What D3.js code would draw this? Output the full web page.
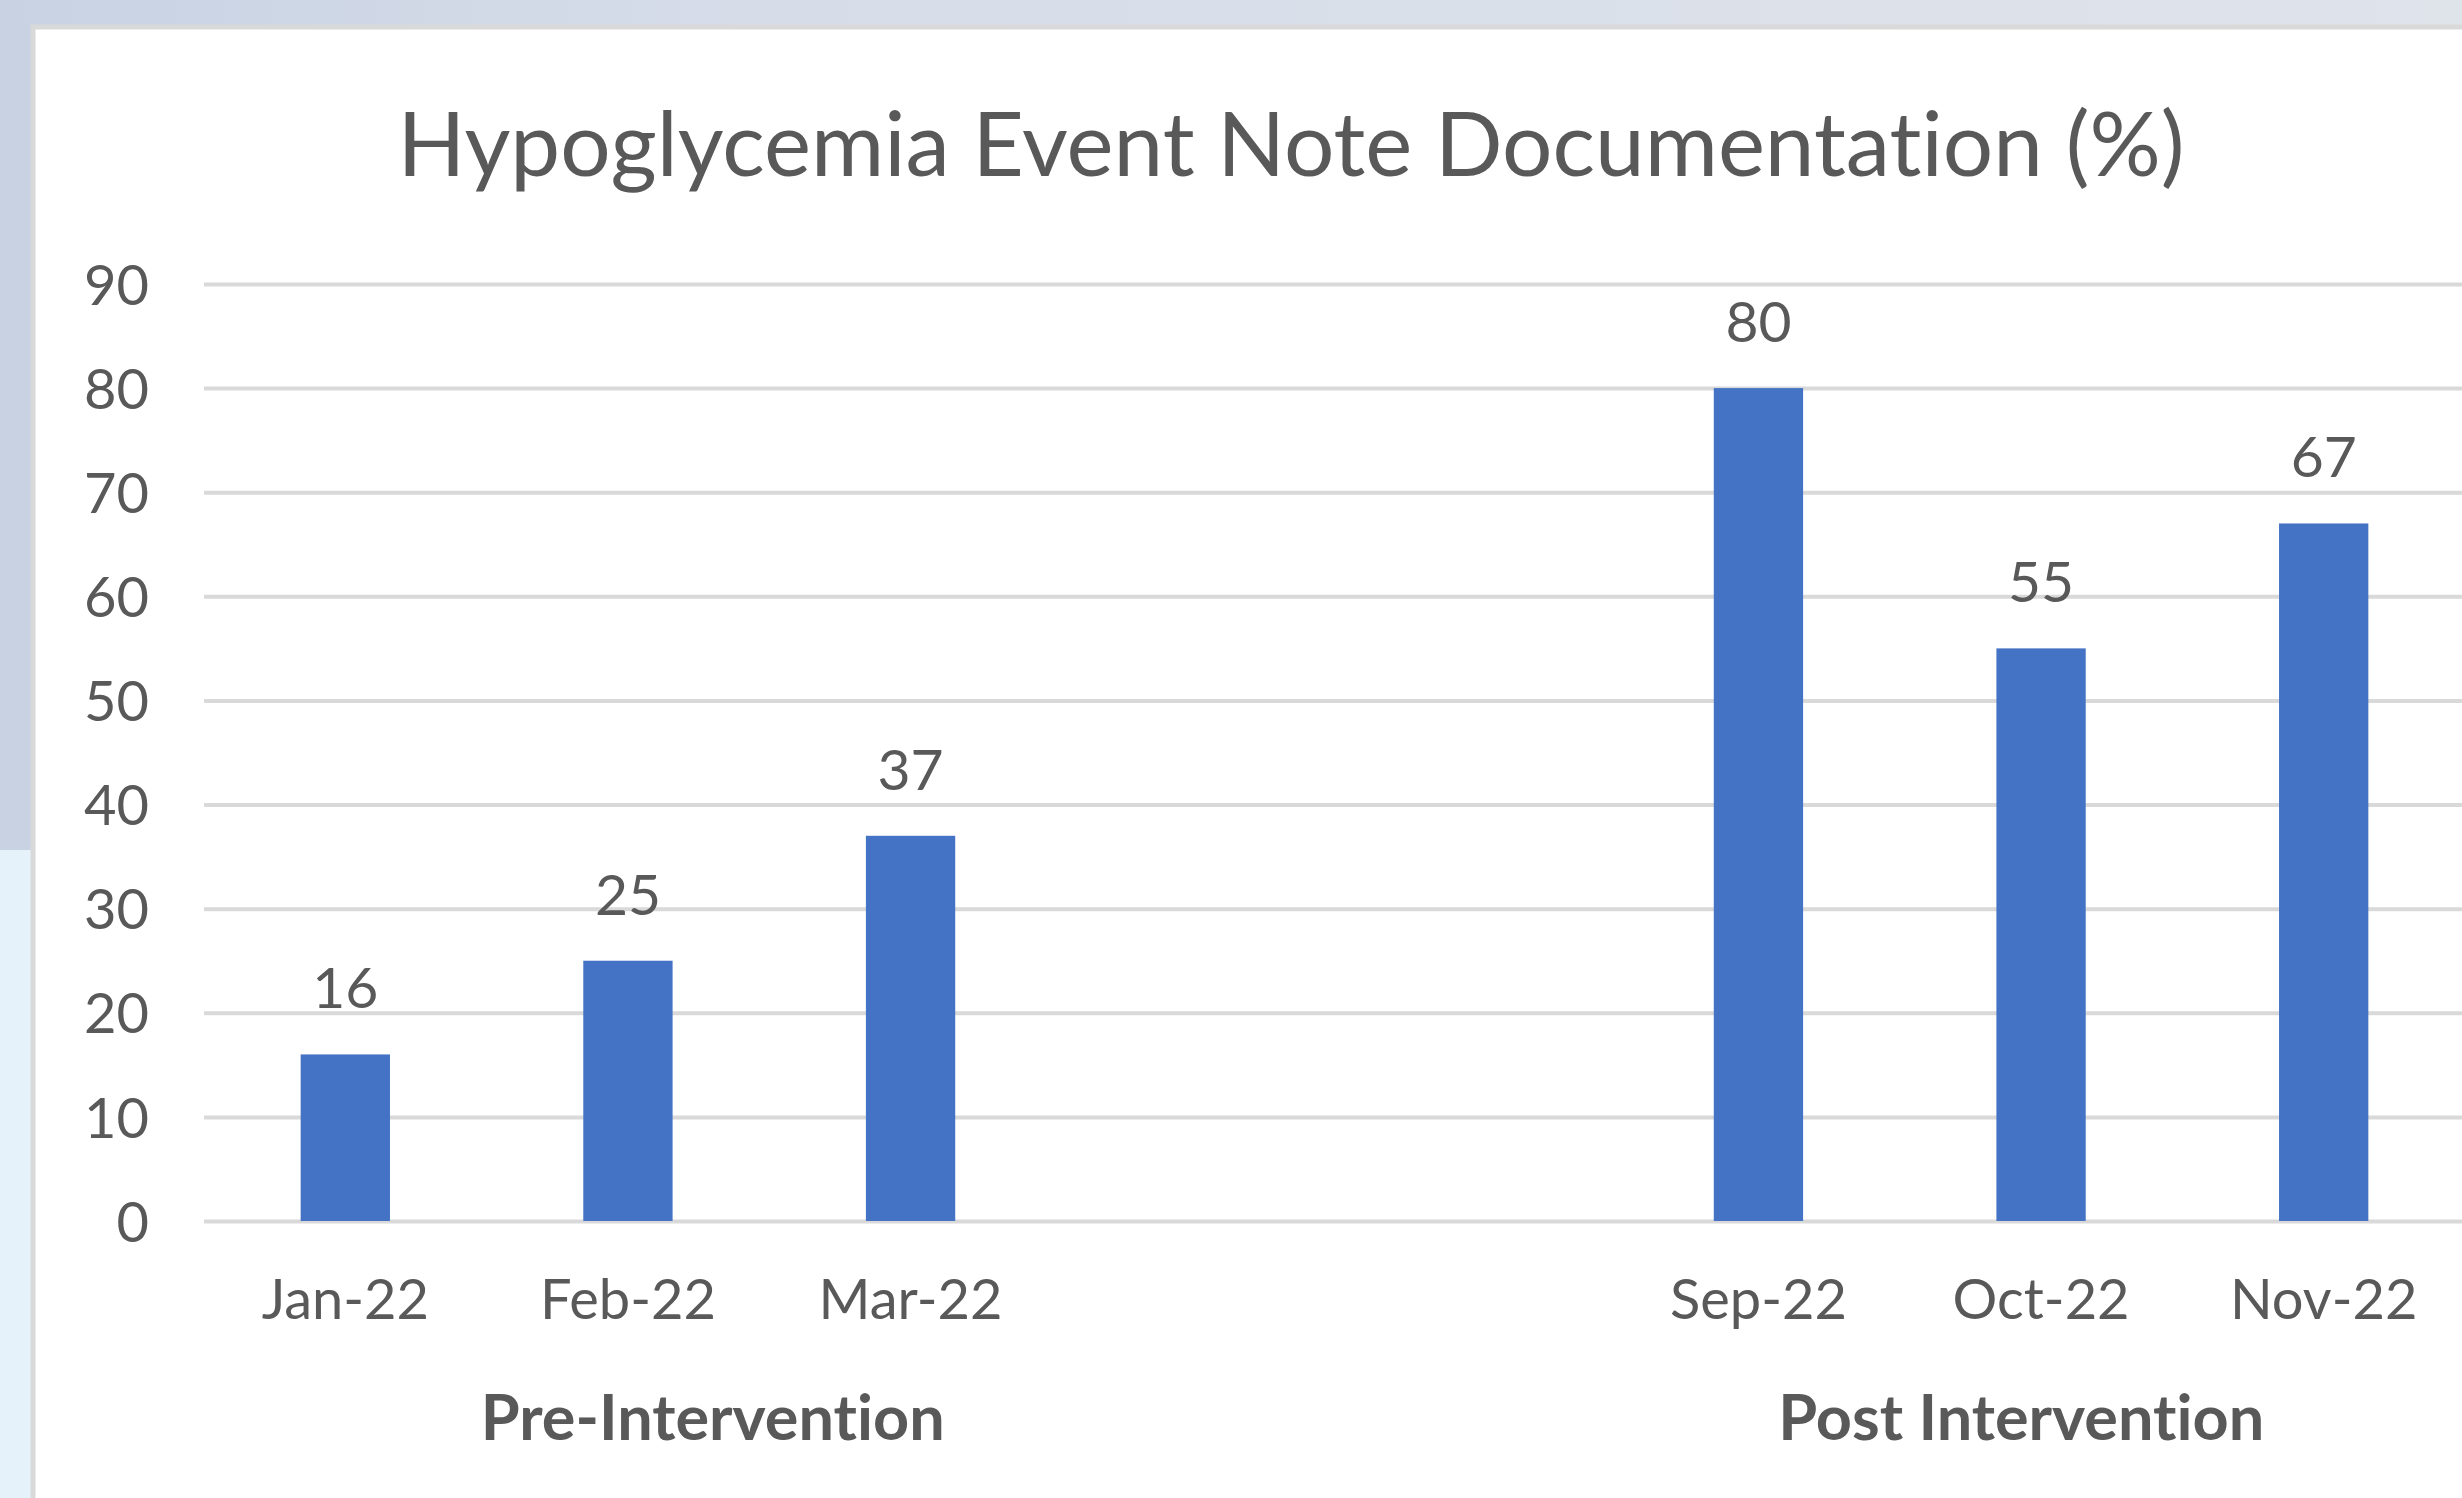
<!DOCTYPE html>
<html>
<head>
<meta charset="utf-8">
<script src="https://cdn.jsdelivr.net/npm/d3@7"></script>
<style>
  html, body { margin: 0; padding: 0; background: #fff; }
  svg { display: block; }
  text { font-family: Lato, "Open Sans", sans-serif; fill: #595959; font-variant-ligatures: none; }
</style>
</head>
<body>
<script>
// chart data
var categories = ['Jan-22', 'Feb-22', 'Mar-22', '', '', 'Sep-22', 'Oct-22', 'Nov-22'];
var values = [16, 25, 37, null, null, 80, 55, 67];
var yTicks = [0, 10, 20, 30, 40, 50, 60, 70, 80, 90];
var groupLabels = ['Pre-Intervention', 'Post Intervention'];
var title = 'Hypoglycemia Event Note Documentation (%)';

document.addEventListener('DOMContentLoaded', function() {
	drawChart();
});

function drawChart() {
	const W = 2462;
	const H = 1498;
	const left = 204, right = 2465, top = 284, bottom = 1221;

	var svg = d3.select('body').append('svg')
		.attr('width', W)
		.attr('height', H);

	// slide background around the chart panel
	var defs = svg.append('defs');
	var grad = defs.append('linearGradient').attr('id', 'bg')
		.attr('x1', 0).attr('x2', 1).attr('y1', 0).attr('y2', 0);
	grad.append('stop').attr('offset', '0%').attr('stop-color', '#c8d2e3');
	grad.append('stop').attr('offset', '30%').attr('stop-color', '#d6dde9');
	grad.append('stop').attr('offset', '100%').attr('stop-color', '#dfe3ea');

	svg.append('rect').attr('width', W).attr('height', H).attr('fill', 'url(#bg)');
	svg.append('rect').attr('x', 0).attr('y', 850).attr('width', 32).attr('height', H - 850)
		.attr('fill', '#e6f2fa');

	// white chart panel
	svg.append('rect')
		.attr('x', 33).attr('y', 27)
		.attr('width', W + 20).attr('height', H + 20)
		.attr('fill', '#fff')
		.attr('stroke', '#d9d9d9')
		.attr('stroke-width', 5);

	var xScale = d3.scaleBand()
		.domain(d3.range(categories.length))
		.range([left, right])
		.paddingInner(0.684)
		.paddingOuter(0.342);

	var yScale = d3.scaleLinear()
		.domain([0, 90])
		.range([bottom, top]);

	// gridlines + y labels
	var yAxis = d3.axisLeft(yScale)
		.tickValues(yTicks)
		.tickSizeInner(-(right - left))
		.tickSizeOuter(0)
		.tickPadding(55);

	var gy = svg.append('g')
		.attr('transform', 'translate(' + left + ',0)')
		.call(yAxis);
	gy.select('.domain').remove();
	gy.selectAll('line').attr('stroke', '#d9d9d9').attr('stroke-width', 4);
	gy.selectAll('text')
		.attr('font-size', 56)
		.attr('font-family', 'Lato')
		.attr('fill', '#595959')
		.attr('dy', '0.36em');

	// x labels
	var xAxis = d3.axisBottom(xScale)
		.tickSize(0)
		.tickFormat(function(i) { return categories[i]; });

	var gx = svg.append('g')
		.attr('transform', 'translate(0,' + bottom + ')')
		.call(xAxis);
	gx.select('.domain').remove();
	gx.selectAll('text')
		.attr('y', 98)
		.attr('dy', 0)
		.attr('font-size', 56)
		.attr('font-family', 'Lato')
		.attr('fill', '#595959');

	var data = values.map(function(v, i) { return { i: i, v: v }; })
		.filter(function(d) { return d.v != null; });

	svg.selectAll('rect.bar')
		.data(data)
		.enter()
		.append('rect')
		.attr('class', 'bar')
		.attr('x', d => xScale(d.i))
		.attr('y', d => yScale(d.v))
		.attr('width', xScale.bandwidth())
		.attr('height', d => bottom - yScale(d.v))
		.attr('fill', '#4472c4');

	svg.selectAll('text.val')
		.data(data)
		.enter()
		.append('text')
		.attr('class', 'val')
		.attr('x', d => xScale(d.i) + xScale.bandwidth() / 2)
		.attr('y', d => yScale(d.v) - 46)
		.attr('text-anchor', 'middle')
		.attr('font-size', 57)
		.text(d => d.v);

	// group labels under the month labels, centred (in slot units) like the original
	var slot = d3.scaleLinear().domain([0, categories.length]).range([left, right]);
	var groupCenters = [1.8, 6.43];
	svg.selectAll('text.grp')
		.data(groupLabels)
		.enter()
		.append('text')
		.attr('class', 'grp')
		.attr('x', (d, i) => slot(groupCenters[i]))
		.attr('y', 1440)
		.attr('text-anchor', 'middle')
		.attr('font-size', 63)
		.attr('font-weight', 'bold')
		.text(d => d);

	svg.append('text')
		.attr('x', 1291)
		.attr('y', 176)
		.attr('text-anchor', 'middle')
		.attr('font-size', 89)
		.text(title);
}
</script>
</body>
</html>
